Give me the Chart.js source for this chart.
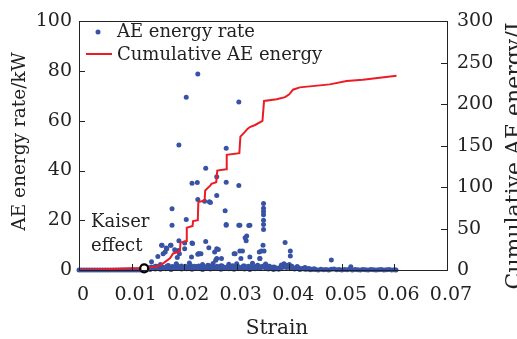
<!DOCTYPE html>
<html>
<head>
<meta charset="utf-8">
<script src="https://cdn.jsdelivr.net/npm/chart.js@4.4.1/dist/chart.umd.min.js"></script>
<style>
  html, body { margin: 0; padding: 0; background: #fff; }
  #wrap { width: 517px; height: 339px; }
</style>
</head>
<body>
<div id="wrap"><canvas id="aeChart" width="517" height="339"></canvas></div>
<script>
// tick labels
const strainTicks = [0, 0.01, 0.02, 0.03, 0.04, 0.05, 0.06, 0.07];
const rateTicks = [0, 20, 40, 60, 80, 100];
const energyTicks = [0, 50, 100, 150, 200, 250, 300];

// AE energy rate (kW) - scattered bursts
const burstStrain = [
  0.0138, 0.0150, 0.0157, 0.0158, 0.0160, 0.0164, 0.0166, 0.0167, 0.0174, 0.0175,
  0.0177, 0.0177, 0.0182, 0.0187, 0.0189, 0.0190, 0.0190, 0.0191, 0.0201, 0.0201,
  0.0204, 0.0204, 0.0214, 0.0215, 0.0215, 0.0216, 0.0225, 0.0226, 0.0226, 0.0226,
  0.0227, 0.0229, 0.0232, 0.0239, 0.0241, 0.0241, 0.0247, 0.0248, 0.0250, 0.0258,
  0.0260, 0.0262, 0.0262, 0.0262, 0.0262, 0.0265, 0.0271, 0.0278, 0.0280, 0.0280,
  0.0280, 0.0280, 0.0295, 0.0297, 0.0304, 0.0304, 0.0304, 0.0306, 0.0306, 0.0308,
  0.0311, 0.0316, 0.0318, 0.0319, 0.0323, 0.0325, 0.0325, 0.0343, 0.0344, 0.0344,
  0.0347, 0.0350, 0.0351, 0.0351, 0.0351, 0.0351, 0.0351, 0.0351, 0.0351, 0.0352,
  0.0392, 0.0402, 0.0402, 0.0480, 0.0517,
  // bumps just above the floor
  0.0145, 0.0155, 0.0170, 0.0185, 0.0195, 0.0210, 0.0220, 0.0235, 0.0245, 0.0255,
  0.0270, 0.0285, 0.0290, 0.0300, 0.0315, 0.0330, 0.0340, 0.0355, 0.0360, 0.0370,
  0.0385, 0.0390, 0.0395, 0.0400, 0.0405, 0.0415, 0.0430
];
const burstRate = [
  3.3, 5.4, 10.0, 10.0, 6.5, 7.2, 8.8, 8.5, 10.0, 10.0,
  24.6, 18.0, 8.1, 5.0, 7.8, 50.3, 11.8, 6.5, 10.9, 8.5,
  69.5, 20.3, 5.2, 34.9, 10.9, 10.7, 35.2, 78.8, 28.4, 6.3,
  6.5, 6.5, 6.5, 27.7, 40.9, 11.5, 8.9, 27.5, 27.2, 7.2,
  3.9, 37.5, 30.0, 8.5, 4.6, 8.2, 4.6, 23.8, 49.0, 35.3,
  18.3, 18.0, 6.5, 6.5, 67.6, 34.0, 18.0, 7.6, 18.0, 4.6,
  7.6, 13.0, 11.8, 13.7, 17.9, 18.0, 5.2, 7.2, 4.6, 4.6,
  7.6, 10.0, 26.8, 24.8, 23.5, 22.2, 20.0, 18.3, 16.3, 7.6,
  11.1, 7.6, 5.6, 4.0, 1.3,
  1.5, 2.2, 1.8, 2.5, 1.6, 2.8, 1.5, 2.2, 1.9, 2.6,
  1.7, 2.3, 1.4, 2.5, 1.6, 2.7, 1.9, 2.4, 1.5, 1.2,
  2.0, 2.5, 1.8, 2.2, 1.5, 1.4, 1.0
];

// AE energy rate (kW) - dense floor of small events
const floorStrain = [
  0, 0.0005, 0.001, 0.0015, 0.002, 0.0025, 0.003, 0.0035, 0.004, 0.0045,
  0.005, 0.0055, 0.006, 0.0065, 0.007, 0.0075, 0.008, 0.0085, 0.009, 0.0095,
  0.01, 0.0105, 0.011, 0.0115, 0.012, 0.0125, 0.013, 0.0135, 0.014, 0.0145,
  0.015, 0.0155, 0.016, 0.0165, 0.017, 0.0175, 0.018, 0.0185, 0.019, 0.0195,
  0.02, 0.0205, 0.021, 0.0215, 0.022, 0.0225, 0.023, 0.0235, 0.024, 0.0245,
  0.025, 0.0255, 0.026, 0.0265, 0.027, 0.0275, 0.028, 0.0285, 0.029, 0.0295,
  0.03, 0.0305, 0.031, 0.0315, 0.032, 0.0325, 0.033, 0.0335, 0.034, 0.0345,
  0.035, 0.0355, 0.036, 0.0365, 0.037, 0.0375, 0.038, 0.0385, 0.039, 0.0395,
  0.04, 0.0405, 0.041, 0.0415, 0.042, 0.0425, 0.043, 0.0435, 0.044, 0.0445,
  0.045, 0.0455, 0.046, 0.0465, 0.047, 0.0475, 0.048, 0.0485, 0.049, 0.0495,
  0.05, 0.0505, 0.051, 0.0515, 0.052, 0.0525, 0.053, 0.0535, 0.054, 0.0545,
  0.055, 0.0555, 0.056, 0.0565, 0.057, 0.0575, 0.058, 0.0585, 0.059, 0.0595,
  0.06, 0.0603,
  // second row, between the first
  0.01275, 0.01325, 0.01375, 0.01425, 0.01475, 0.01525, 0.01575, 0.01625, 0.01675, 0.01725,
  0.01775, 0.01825, 0.01875, 0.01925, 0.01975, 0.02025, 0.02075, 0.02125, 0.02175, 0.02225,
  0.02275, 0.02325, 0.02375, 0.02425, 0.02475, 0.02525, 0.02575, 0.02625, 0.02675, 0.02725,
  0.02775, 0.02825, 0.02875, 0.02925, 0.02975, 0.03025, 0.03075, 0.03125, 0.03175, 0.03225,
  0.03275, 0.03325, 0.03375, 0.03425, 0.03475, 0.03525, 0.03575, 0.03625, 0.03675, 0.03725,
  0.03775, 0.03825, 0.03875, 0.03925, 0.03975, 0.04025, 0.04075, 0.04125, 0.04175, 0.04225,
  0.04275, 0.04325, 0.04375, 0.04425, 0.04475
];
const floorRate = [
  0, 0, 0, 0, 0, 0, 0, 0, 0, 0,
  0, 0, 0, 0, 0, 0, 0, 0, 0, 0,
  0, 0, 0, 0, 0, 0.3, 0.6, 0.2, 0.8, 0.4,
  0.9, 0.3, 1.0, 0.5, 0.7, 0.2, 1.1, 0.6, 0.9, 0.4,
  1.0, 0.5, 0.8, 0.3, 1.1, 0.6, 0.9, 0.2, 1.0, 0.7,
  0.4, 1.1, 0.6, 0.9, 0.3, 1.0, 0.7, 0.5, 1.1, 0.3,
  0.9, 0.6, 1.0, 0.4, 0.8, 0.2, 1.1, 0.5, 0.9, 0.7,
  1.2, 0.8, 0.4, 0.6, 0.2, 0.5, 0.3, 0.9, 1.2, 1.0,
  1.1, 0.7, 0.4, 0.6, 0.2, 0.5, 0.3, 0.4, 0.1, 0.3,
  0.2, 0, 0.3, 0.1, 0.2, 0, 0.3, 0.4, 0.1, 0.2,
  0, 0.2, 0.1, 0.3, 0, 0.2, 0.1, 0, 0.2, 0.1,
  0, 0.2, 0.1, 0, 0.1, 0.2, 0, 0.1, 0.2, 0,
  0.1, 0,
  0.5, 0.9, 1.2, 0.7, 1.5, 1.0, 1.3, 0.8, 1.6, 1.1,
  1.4, 0.9, 1.7, 1.2, 0.8, 1.5, 1.1, 1.8, 0.9, 1.3,
  1.6, 1.0, 1.4, 0.8, 1.7, 1.2, 0.9, 1.5, 1.1, 1.6,
  1.0, 1.3, 0.8, 1.7, 1.2, 1.4, 0.9, 1.6, 1.1, 1.5,
  1.3, 0.8, 1.6, 1.0, 1.4, 1.8, 1.2, 1.5, 0.9, 1.1,
  0.7, 1.0, 1.6, 1.8, 1.4, 1.2, 0.8, 0.6, 0.9, 0.5,
  0.7, 0.4, 0.6, 0.3, 0.5
];

// cumulative AE energy (J)
const cumStrain = [
  0, 0.005, 0.010, 0.0124, 0.0140, 0.0148, 0.0160, 0.0173, 0.0179, 0.0190,
  0.0192, 0.0193, 0.0204, 0.0205, 0.0216, 0.0217, 0.0226, 0.0227, 0.0239, 0.0240,
  0.0250, 0.0252, 0.0261, 0.0263, 0.0280, 0.0281, 0.0305, 0.0307, 0.0316, 0.0320,
  0.0325, 0.0335, 0.0349, 0.0352, 0.0376, 0.0392, 0.0400, 0.0407, 0.0420, 0.0477,
  0.0509, 0.0540, 0.0604
];
const cumEnergy = [
  0, 0.8, 2, 2.2, 3.5, 4, 8, 14, 20, 22,
  23.5, 33, 35, 51, 53, 59, 60, 82, 84, 96,
  102, 104, 106, 120, 121.5, 139, 141, 161, 167, 170,
  172.5, 175, 180, 204, 206, 208.6, 212, 217.6, 220.4, 224,
  228, 229.5, 234.5
];

// Kaiser effect point
const kaiserStrain = [0.0124];
const kaiserEnergy = [2];

const SERIF = "'DejaVu Serif', 'Liberation Serif', serif";
const BLUE = "#3953a4";
const RED = "#ec1c24";

const ratePoints = burstStrain.map((x, i) => ({ x: x, y: burstRate[i] }))
  .concat(floorStrain.map((x, i) => ({ x: x, y: floorRate[i] })));
const cumPoints = cumStrain.map((x, i) => ({ x: x, y: cumEnergy[i] }));
const kaiserPoints = kaiserStrain.map((x, i) => ({ x: x, y: kaiserEnergy[i] }));

function fixTicks(list) {
  return function (scale) {
    scale.ticks = list.map(v => ({ value: v }));
  };
}

// frame, inward ticks, legend, annotation and axis titles
const decorations = {
  id: "decorations",
  afterDraw(chart) {
    const ctx = chart.ctx;
    const a = chart.chartArea;
    const sx = chart.scales.x, sy = chart.scales.y, sy2 = chart.scales.y2;
    ctx.save();
    ctx.strokeStyle = "#222";
    ctx.lineWidth = 1;
    ctx.strokeRect(Math.round(a.left) + 0.5, Math.round(a.top) + 0.5,
      Math.round(a.right - a.left), Math.round(a.bottom - a.top));

    ctx.beginPath();
    strainTicks.slice(1, -1).forEach(v => {
      const px = Math.round(sx.getPixelForValue(v)) + 0.5;
      ctx.moveTo(px, a.bottom); ctx.lineTo(px, a.bottom - 6);
    });
    rateTicks.slice(1, -1).forEach(v => {
      const py = Math.round(sy.getPixelForValue(v)) + 0.5;
      ctx.moveTo(a.left, py); ctx.lineTo(a.left + 6, py);
    });
    energyTicks.slice(1, -1).forEach(v => {
      const py = Math.round(sy2.getPixelForValue(v)) + 0.5;
      ctx.moveTo(a.right, py); ctx.lineTo(a.right - 6, py);
    });
    ctx.stroke();

    // legend
    const ds = chart.data.datasets;
    ctx.fillStyle = BLUE;
    ctx.beginPath();
    ctx.arc(98, 32, 2.5, 0, Math.PI * 2);
    ctx.fill();
    ctx.strokeStyle = RED;
    ctx.lineWidth = 2;
    ctx.beginPath();
    ctx.moveTo(86, 54); ctx.lineTo(112, 54);
    ctx.stroke();
    ctx.fillStyle = "#222";
    ctx.font = "18px " + SERIF;
    ctx.textBaseline = "middle";
    ctx.textAlign = "left";
    ctx.fillText(ds[2].label, 117, 32);
    ctx.fillText(ds[1].label, 117, 55);

    // Kaiser effect annotation
    ctx.fillText("Kaiser", 91, 222);
    ctx.fillText("effect", 91, 246);

    // axis titles
    ctx.textBaseline = "alphabetic";
    ctx.textAlign = "center";
    ctx.font = "20px " + SERIF;
    ctx.fillText("Strain", 277, 334);

    ctx.font = "18.5px " + SERIF;
    ctx.save();
    ctx.translate(25, 141.5);
    ctx.rotate(-Math.PI / 2);
    ctx.fillText("AE energy rate/kW", 0, 0);
    ctx.restore();

    ctx.font = "22px " + SERIF;
    ctx.save();
    ctx.translate(521, 156);
    ctx.rotate(-Math.PI / 2);
    ctx.fillText("Cumulative AE energy/J", 0, 0);
    ctx.restore();
    ctx.restore();
  }
};

const tickFont = { family: SERIF, size: 19 };

new Chart(document.getElementById("aeChart"), {
  type: "scatter",
  data: {
    datasets: [
      {
        label: "Kaiser effect",
        data: kaiserPoints,
        yAxisID: "y2",
        pointRadius: 4,
        pointBorderWidth: 2.2,
        pointBorderColor: "#000",
        pointBackgroundColor: "#fff",
        clip: false
      },
      {
        label: "Cumulative AE energy",
        data: cumPoints,
        yAxisID: "y2",
        showLine: true,
        borderColor: RED,
        borderWidth: 2,
        pointRadius: 0,
        tension: 0,
        clip: false
      },
      {
        label: "AE energy rate",
        data: ratePoints,
        yAxisID: "y",
        pointRadius: 2.5,
        pointBorderWidth: 0,
        pointBackgroundColor: BLUE,
        clip: false
      }
    ]
  },
  options: {
    responsive: false,
    animation: false,
    devicePixelRatio: 1,
    layout: { padding: { top: 15, left: 0, right: 0, bottom: 0 } },
    plugins: { legend: { display: false }, tooltip: { enabled: false } },
    scales: {
      x: {
        type: "linear",
        position: "bottom",
        min: 0,
        max: 0.07,
        grid: { display: false, drawTicks: false },
        border: { display: false },
        afterBuildTicks: fixTicks(strainTicks),
        afterFit: s => { s.height = 69; },
        ticks: {
          font: tickFont,
          color: "#222",
          padding: 14,
          labelOffset: 4,
          maxRotation: 0,
          autoSkip: false,
          callback: v => (v === 0 ? "0" : v.toFixed(2))
        }
      },
      y: {
        type: "linear",
        position: "left",
        min: 0,
        max: 100,
        grid: { display: false, drawTicks: false },
        border: { display: false },
        afterBuildTicks: fixTicks(rateTicks),
        afterFit: s => { s.width = 79; },
        ticks: { font: tickFont, color: "#222", padding: 7 }
      },
      y2: {
        type: "linear",
        position: "right",
        min: 0,
        max: 300,
        grid: { display: false, drawTicks: false },
        border: { display: false },
        afterBuildTicks: fixTicks(energyTicks),
        afterFit: s => { s.width = 70; },
        ticks: { font: tickFont, color: "#222", padding: 10 }
      }
    }
  },
  plugins: [decorations]
});
</script>
</body>
</html>
